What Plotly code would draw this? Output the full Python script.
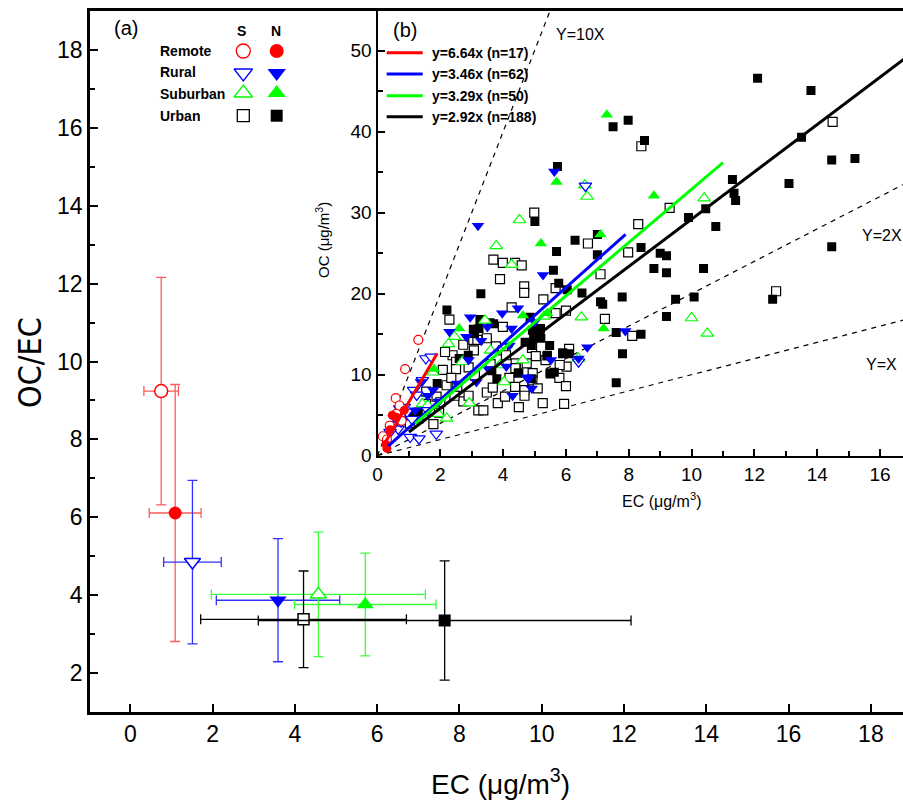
import plotly.graph_objects as go

# ---------------- data: panel (a) -----------------
categories = ["Remote", "Rural", "Suburban", "Urban"]
# South (open symbols)
ec_s = [0.75, 1.51, 4.57, 4.21]
ec_s_sd = [0.42, 0.70, 2.60, 2.50]
ratio_s = [9.24, 4.85, 4.02, 3.38]
ratio_s_sd = [2.92, 2.10, 1.60, 1.24]
# North (filled symbols)
ec_n = [1.09, 3.59, 5.71, 7.64]
ec_n_sd = [0.63, 1.50, 1.72, 4.53]
ratio_n = [6.11, 3.87, 3.76, 3.35]
ratio_n_sd = [3.30, 1.58, 1.32, 1.53]

# ---------------- data: panel (b) -----------------
remote_s_ec = [1.3, 0.88, 0.58, 0.39, 0.17, 0.77, 0.6, 0.3, 0.7]
remote_s_oc = [14.3, 10.7, 7.1, 3.7, 2.4, 4.3, 5.2, 2.0, 6.2]
remote_n_ec = [0.47, 0.6, 0.27, 0.4, 0.85, 0.3]
remote_n_oc = [5.0, 4.75, 1.4, 3.2, 5.6, 0.9]

rural_s_ec = [1.54, 1.71, 1.15, 0.71, 0.94, 0.55, 0.66, 1.04, 1.32, 1.87, 1.43, 6.62,
              0.85, 1.25, 0.5, 0.4, 1.1, 0.75, 6.4, 1.6]
rural_s_oc = [12.0, 12.2, 8.1, 5.8, 5.4, 4.75, 3.3, 2.3, 2.1, 2.7, 9.3, 33.3,
              6.0, 7.5, 3.8, 2.9, 4.5, 4.2, 11.6, 5.6]
rural_n_ec = [5.63, 3.2, 5.27, 2.95, 3.97, 2.29, 2.83, 4.47, 6.68, 7.89, 3.5, 4.27, 5.52,
              4.8, 4.91, 3.15, 3.53, 4.3, 2.54, 1.38, 1.6, 1.77, 0.33, 6.4, 3.3, 4.1,
              2.9, 4.75, 5.0, 4.2, 1.95, 1.2]
rural_n_oc = [35.1, 28.4, 22.3, 17.1, 17.6, 15.3, 14.7, 18.2, 13.4, 15.4, 15.9, 15.7, 11.8,
              9.5, 8.3, 9.1, 10.7, 7.4, 8.9, 9.1, 7.4, 8.1, 1.4, 12.0, 14.2, 11.0,
              11.8, 9.7, 16.5, 13.6, 6.7, 5.6]

suburban_s_ec = [6.6, 6.67, 4.52, 3.78, 4.27, 10.4, 6.49, 10.0, 10.5, 6.4, 4.03, 2.92, 1.76,
                 2.45, 2.26, 3.42, 2.7, 1.93, 1.43, 4.63, 3.6, 5.3, 2.2, 4.1, 1.6, 3.9]
suburban_s_oc = [33.4, 32.0, 29.1, 25.9, 23.6, 31.8, 17.1, 17.0, 15.1, 12.0, 9.1, 6.5, 10.3,
                 14.7, 13.8, 16.7, 11.6, 5.2, 6.4, 11.8, 13.0, 17.2, 4.6, 13.7, 6.2, 11.2]
suburban_n_ec = [7.3, 5.7, 8.8, 5.2, 7.2, 7.1, 5.4, 4.63, 2.6, 1.8]
suburban_n_oc = [42.1, 33.8, 32.1, 26.2, 15.7, 27.3, 17.6, 17.3, 15.7, 10.7]

urban_s_ec = [14.49, 8.4, 4.99, 9.3, 8.3, 6.7, 7.98, 3.69, 3.99, 4.38, 4.59, 7.1, 3.9, 4.67,
              4.67, 12.69, 5.28, 5.67, 5.67, 6.0, 7.24, 4.27, 2.29, 8.11, 3.99, 3.05, 3.18,
              3.48, 2.73, 2.39, 2.15, 3.77, 3.07, 3.99, 4.09, 4.4, 4.39, 4.92, 5.04, 4.75,
              4.94, 6.1, 5.79, 6.0, 2.5, 2.5, 2.08, 2.2, 2.54, 1.88, 1.54, 1.96, 1.78, 1.3,
              1.03, 3.48, 3.67, 3.83, 4.06, 4.38, 4.68, 4.68, 4.93, 5.26, 5.94, 3.21, 3.37,
              2.73, 6.02, 5.8, 2.35, 2.9, 3.1, 1.55, 2.0, 2.45, 2.9, 3.6, 4.2, 5.1, 4.5, 5.35]
urban_s_oc = [41.2, 38.2, 30.0, 30.6, 28.6, 26.2, 25.1, 24.2, 23.8, 23.8, 23.5, 22.4, 21.8, 20.9,
              20.1, 20.3, 19.3, 20.7, 17.6, 17.9, 16.9, 18.3, 16.8, 14.8, 15.9, 14.3, 14.3,
              14.5, 13.7, 12.4, 12.8, 13.5, 13.0, 13.0, 12.4, 11.4, 10.8, 13.3, 12.3, 11.4,
              10.2, 13.2, 9.6, 8.6, 11.6, 10.7, 10.6, 8.7, 8.5, 7.3, 6.4, 5.3, 3.9, 4.6,
              4.0, 7.8, 8.4, 6.5, 7.3, 8.5, 8.1, 7.4, 9.3, 6.5, 6.4, 5.6, 5.6,
              6.7, 11.0, 11.2, 9.6, 10.9, 9.9, 7.9, 6.6, 7.4, 7.4, 11.3, 9.6, 8.3, 6.0, 11.8]
urban_n_ec = [12.1, 13.8, 7.5, 7.98, 8.5, 13.5, 14.46, 15.2, 5.73, 13.1, 11.3, 11.35, 11.4, 5.01,
              9.9, 10.45, 10.77, 6.29, 7.0, 7.0, 5.7, 8.39, 9.0, 9.2, 8.8, 9.2, 10.38, 14.46,
              5.6, 5.77, 6.51, 6.04, 3.29, 7.79, 7.1, 7.17, 9.49, 10.08, 9.2, 12.58, 2.21,
              4.86, 3.09, 3.23, 3.7, 5.19, 4.97, 4.7, 5.48, 5.41, 5.9, 6.1, 7.6, 8.39, 7.8,
              7.6, 5.5, 5.63, 3.8, 2.6, 2.89, 4.5, 1.9, 4.9, 3.64, 3.26, 3.58, 3.05, 4.93,
              5.17, 5.2, 4.9, 5.39, 5.89, 4.48, 5.49, 1.0, 1.3]
urban_n_oc = [46.6, 45.1, 40.6, 41.4, 38.9, 39.3, 36.5, 36.7, 35.7, 33.6, 34.1, 32.4, 31.5, 28.9,
              29.4, 30.5, 28.3, 26.6, 27.3, 24.8, 25.2, 25.7, 25.0, 24.7, 23.1, 22.6, 23.1, 25.8,
              22.9, 21.3, 20.1, 20.5, 20.0, 19.6, 19.0, 18.7, 19.3, 19.6, 17.2, 19.3, 18.0,
              17.1, 15.1, 15.7, 16.3, 15.7, 14.5, 14.0, 13.6, 12.4, 12.7, 12.6, 15.2, 15.0, 12.6,
              9.0, 10.1, 10.3, 9.5, 12.0, 12.4, 10.2, 8.9, 9.5, 10.5, 16.8, 16.4, 15.6, 15.5,
              15.5, 14.5, 13.6, 12.3, 12.6, 10.2, 10.2, 4.9, 5.4]

# regressions (legend values) and fitted EC spans
fit_labels = ["y=6.64x (n=17)", "y=3.46x (n=62)", "y=3.29x (n=50)", "y=2.92x (n=188)"]
fit_slopes = [6.64, 3.46, 3.29, 2.92]
fit_x0 = [0.18, 0.34, 1.2, 1.0]
fit_x1 = [1.9, 7.9, 11.0, 16.8]
ref_slopes = [10, 2, 1]
ref_labels = ["Y=10X", "Y=2X", "Y=X"]

# ---------------- styling / geometry -----------------
W, H = 903, 806
ML, MR, MT, MB = 90, 0, 11, 94
PW, PH = W - ML - MR, H - MT - MB

def PX(px):
    return (px - ML) / PW

def PY(py):
    return (H - MB - py) / PH

FONT = "Liberation Sans, Arial, sans-serif"
NARROW = "Liberation Sans Narrow, DejaVu Sans Condensed, Liberation Sans, Arial, sans-serif"
colors = ["rgb(255,0,0)", "rgb(0,0,255)", "rgb(0,220,0)", "rgb(0,0,0)"]
green_fill = "rgb(0,255,0)"
err_colors = ["rgb(255,90,90)", "rgb(50,50,255)", "rgb(60,255,60)", "rgb(0,0,0)"]
sym_s = ["circle", "triangle-down", "triangle-up", "square"]
sym_n = ["circle", "triangle-down", "triangle-up", "square"]
size_main_s = [13, 14, 14, 11]
size_main_n = [13, 15, 15, 12]

fig = go.Figure()

# ---------------- panel (a) -----------------
for i, cat in enumerate(categories):
    fillc = green_fill if i == 2 else colors[i]
    fig.add_trace(go.Scatter(
        x=[ec_s[i]], y=[ratio_s[i]], mode="markers", showlegend=False, name=cat + " S",
        marker=dict(symbol=sym_s[i], size=size_main_s[i], color="white",
                    line=dict(color=fillc, width=1.5)),
        error_x=dict(type="data", array=[ec_s_sd[i]], color=err_colors[i], thickness=1.3, width=5),
        error_y=dict(type="data", array=[ratio_s_sd[i]], color=err_colors[i], thickness=1.3, width=5),
        xaxis="x", yaxis="y"))
    fig.add_trace(go.Scatter(
        x=[ec_n[i]], y=[ratio_n[i]], mode="markers", showlegend=False, name=cat + " N",
        marker=dict(symbol=sym_n[i], size=size_main_n[i], color=fillc, line=dict(width=0)),
        error_x=dict(type="data", array=[ec_n_sd[i]], color=err_colors[i], thickness=1.3, width=5),
        error_y=dict(type="data", array=[ratio_n_sd[i]], color=err_colors[i], thickness=1.3, width=5),
        xaxis="x", yaxis="y"))

# ---------------- panel (b) -----------------
XMAX2, YMAX2 = 16.73, 54.9
for k, s in enumerate(ref_slopes):
    xe = min(XMAX2, YMAX2 / s)
    fig.add_trace(go.Scatter(x=[0, xe], y=[0, s * xe], mode="lines", showlegend=False,
                             line=dict(color="black", width=1.2, dash="5px,5px"),
                             xaxis="x2", yaxis="y2", hoverinfo="skip"))

groups = [
    (urban_s_ec, urban_s_oc, "square", 9, "white", "black"),
    (urban_n_ec, urban_n_oc, "square", 9, "black", None),
    (suburban_s_ec, suburban_s_oc, "triangle-up", 11, "white", green_fill),
    (suburban_n_ec, suburban_n_oc, "triangle-up", 11, green_fill, None),
    (rural_s_ec, rural_s_oc, "triangle-down", 11, "white", "blue"),
    (rural_n_ec, rural_n_oc, "triangle-down", 11, "blue", None),
    (remote_s_ec, remote_s_oc, "circle", 9, "white", "red"),
    (remote_n_ec, remote_n_oc, "circle", 9, "red", None),
]
for xs, ys, sym, sz, fc, lc in groups:
    ln = dict(color=lc, width=1.2) if lc else dict(width=0)
    fig.add_trace(go.Scatter(x=xs, y=ys, mode="markers", showlegend=False,
                             marker=dict(symbol=sym, size=sz, color=fc, line=ln),
                             xaxis="x2", yaxis="y2"))

fit_colors = ["rgb(255,0,0)", "rgb(0,0,255)", "rgb(0,255,0)", "rgb(0,0,0)"]
for k in range(4):
    fig.add_trace(go.Scatter(
        x=[fit_x0[k], fit_x1[k]], y=[fit_slopes[k] * fit_x0[k], fit_slopes[k] * fit_x1[k]],
        mode="lines", showlegend=False, line=dict(color=fit_colors[k], width=3),
        xaxis="x2", yaxis="y2"))

# ---------------- legend glyphs (paper-position overlay axis) -----------------
leg_col_s, leg_col_n = 243.3, 276.7
leg_rows = [51, 73, 93, 115.7]
leg_sizes = [14, 16, 16, 12]
for i in range(4):
    fillc = green_fill if i == 2 else colors[i]
    fig.add_trace(go.Scatter(x=[PX(leg_col_s)], y=[PY(leg_rows[i])], mode="markers", showlegend=False,
                             marker=dict(symbol=sym_s[i], size=leg_sizes[i], color="white",
                                         line=dict(color=fillc, width=1.3)),
                             xaxis="x3", yaxis="y3", hoverinfo="skip"))
    fig.add_trace(go.Scatter(x=[PX(leg_col_n)], y=[PY(leg_rows[i])], mode="markers", showlegend=False,
                             marker=dict(symbol=sym_n[i], size=leg_sizes[i], color=fillc, line=dict(width=0)),
                             xaxis="x3", yaxis="y3", hoverinfo="skip"))

annotations = []
def txt(x, y, t, size, bold=False, xanchor="center", angle=0, family=FONT):
    annotations.append(dict(x=PX(x), y=PY(y), xref="paper", yref="paper", text=("<b>%s</b>" % t) if bold else t,
                            showarrow=False, xanchor=xanchor, yanchor="middle", textangle=angle,
                            font=dict(family=family, size=size, color="black")))

txt(125.5, 28, "(a)", 20)
txt(241.7, 31, "S", 14, bold=True)
txt(275.7, 31, "N", 14, bold=True)
for i, cat in enumerate(categories):
    txt(157.7, [51, 71.7, 94.3, 115.7][i], cat, 14, bold=True, xanchor="left")

txt(405, 30, "(b)", 20)
leg_y = [52.7, 74, 95.7, 116.7]
shapes = []
for k in range(4):
    shapes.append(dict(type="line", xref="paper", yref="paper", x0=PX(386.7), x1=PX(422.7),
                       y0=PY(leg_y[k]), y1=PY(leg_y[k]), line=dict(color=fit_colors[k], width=3)))
    txt(430, leg_y[k], fit_labels[k], 14, bold=True, xanchor="left")

txt(554, 34, ref_labels[0], 16, xanchor="left")
txt(860, 235, ref_labels[1], 16, xanchor="left")
txt(864, 365, ref_labels[2], 16, xanchor="left")

txt(500, 782, "EC (μg/m<sup>3</sup>)", 28)
txt(30, 363, "OC/EC", 32, angle=-90, family=NARROW)
txt(322, 240, "OC (μg/m<sup>3</sup>)", 15, angle=-90)
txt(661, 500, "EC (μg/m<sup>3</sup>)", 16)

# ---------------- layout -----------------
ix0 = PX(377.5)
iy0 = PY(455.7)
fig.update_layout(
    width=W, height=H, autosize=False,
    margin=dict(l=ML, r=MR, t=MT, b=MB, pad=0),
    paper_bgcolor="white", plot_bgcolor="white",
    font=dict(family=FONT, color="black"),
    xaxis=dict(domain=[0, 1], range=[-0.98, 18.78], tickmode="array", tickvals=list(range(0, 19, 2)),
               ticks="inside", ticklen=8, tickwidth=2, tickcolor="black", showline=True, linewidth=2.5,
               linecolor="black", mirror=True, showgrid=False, zeroline=False,
               tickfont=dict(size=23, family=FONT), anchor="y"),
    yaxis=dict(domain=[0, 1], range=[1.0, 19.0], tickmode="array", tickvals=list(range(2, 19, 2)),
               ticks="inside", ticklen=8, tickwidth=2, tickcolor="black", showline=True, linewidth=2.5,
               linecolor="black", mirror=False, showgrid=False, zeroline=False,
               minor=dict(tickvals=list(range(3, 19, 2)), ticks="inside", ticklen=5, tickwidth=2, tickcolor="black"),
               tickfont=dict(size=23, family=FONT), anchor="x"),
    xaxis2=dict(domain=[ix0, 1], range=[0, XMAX2], tickmode="array", tickvals=list(range(0, 17, 2)),
                ticks="inside", ticklen=7, tickwidth=1.5, tickcolor="black", showline=True, linewidth=2,
                linecolor="black", showgrid=False, zeroline=False, anchor="y2",
                minor=dict(tickvals=list(range(1, 17, 2)), ticks="inside", ticklen=5, tickwidth=1.5, tickcolor="black"),
                tickfont=dict(size=19, family=FONT)),
    yaxis2=dict(domain=[iy0, 1], range=[0, YMAX2], tickmode="array", tickvals=list(range(0, 51, 10)),
                ticks="inside", ticklen=7, tickwidth=1.5, tickcolor="black", showline=True, linewidth=2,
                linecolor="black", showgrid=False, zeroline=False, anchor="x2",
                minor=dict(tickvals=list(range(5, 55, 10)), ticks="inside", ticklen=5, tickwidth=1.5, tickcolor="black"),
                tickfont=dict(size=19, family=FONT)),
    xaxis3=dict(overlaying="x", range=[0, 1], visible=False, anchor="y3", showgrid=False, zeroline=False),
    yaxis3=dict(overlaying="y", range=[0, 1], visible=False, anchor="x3", showgrid=False, zeroline=False),
    annotations=annotations, shapes=shapes,
)

fig.write_html("out.html", config={"displayModeBar": False},
               post_script="document.body.style.margin='0px';document.body.style.padding='0px';"
                           "document.documentElement.style.overflow='hidden';")
